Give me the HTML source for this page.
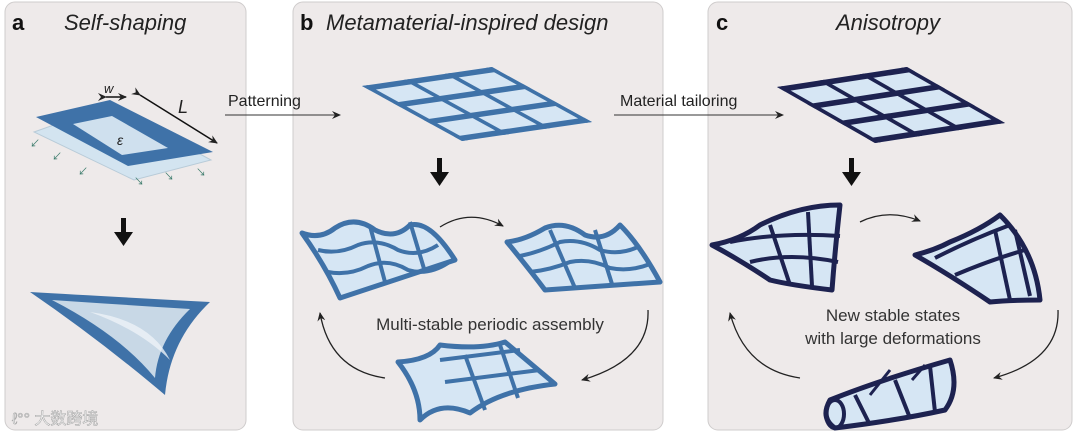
<!DOCTYPE html>
<html><head><meta charset="utf-8"><style>
html,body{margin:0;padding:0;background:#fff;}
svg{display:block;font-family:"Liberation Sans","Noto Sans CJK SC",sans-serif;}
</style></head><body>
<svg width="1080" height="436" viewBox="0 0 1080 436" xmlns="http://www.w3.org/2000/svg">
<defs>
<marker id="ah" markerWidth="10" markerHeight="10" refX="8" refY="5" orient="auto" markerUnits="userSpaceOnUse"><path d="M0,1 L9,5 L0,9 L3,5 z" fill="#222"/></marker>
<g id="grid">
  <rect x="0" y="0" width="1" height="1" fill="#d6e6f4"/>
  <rect x="0" y="0" width="1" height="0.08"/>
  <rect x="0" y="0.307" width="1" height="0.08"/>
  <rect x="0" y="0.613" width="1" height="0.08"/>
  <rect x="0" y="0.92" width="1" height="0.08"/>
  <rect x="0" y="0" width="0.045" height="1"/>
  <rect x="0.318" y="0" width="0.045" height="1"/>
  <rect x="0.637" y="0" width="0.045" height="1"/>
  <rect x="0.955" y="0" width="0.045" height="1"/>
</g>
</defs>
<rect x="5" y="2" width="241" height="428" rx="10" fill="#eeeaea" stroke="#cfcccc"/>
<rect x="293" y="2" width="370" height="428" rx="10" fill="#eeeaea" stroke="#cfcccc"/>
<rect x="708" y="2" width="364" height="428" rx="10" fill="#eeeaea" stroke="#cfcccc"/>

<text x="12" y="30" font-size="22" font-weight="bold" fill="#111">a</text>
<text x="64" y="30" font-size="22" font-style="italic" fill="#222">Self-shaping</text>
<text x="300" y="30" font-size="22" font-weight="bold" fill="#111">b</text>
<text x="326" y="30" font-size="22" font-style="italic" fill="#222">Metamaterial-inspired design</text>
<text x="716" y="30" font-size="22" font-weight="bold" fill="#111">c</text>
<text x="836" y="30" font-size="22" font-style="italic" fill="#222">Anisotropy</text>

<polygon points="34,132 110,105 211,160 134,180" fill="#d3e4f0" stroke="#b8cbd8"/>
<polygon points="36,117 110,100 213,152 128,166" fill="#3f72a8"/>
<polygon points="73,124 112,116 168,148 122,155" fill="#cfe0ee"/>
<text x="117" y="145" font-size="14" font-style="italic" fill="#222">ε</text>
<text x="104" y="93" font-size="13" font-style="italic" fill="#222">w</text>
<line x1="106" y1="97" x2="126" y2="97" stroke="#111" stroke-width="1.5" marker-end="url(#ah)" marker-start="url(#ah)"/>
<line x1="140" y1="95" x2="217" y2="143" stroke="#111" stroke-width="1.5" marker-end="url(#ah)" marker-start="url(#ah)"/>
<text x="178" y="113" font-size="18" font-style="italic" fill="#222">L</text>
<g fill="#3a7a6a" font-size="10"><text x="30" y="147">↙</text><text x="52" y="160">↙</text><text x="78" y="175">↙</text><text x="134" y="185">↘</text><text x="164" y="180">↘</text><text x="196" y="176">↘</text></g>

<g fill="#111">
<rect x="121" y="218" width="5" height="16"/><polygon points="114,232 133,232 123.5,246"/>
<rect x="437" y="158" width="5" height="16"/><polygon points="430,172 449,172 439.5,186"/>
<rect x="849" y="158" width="5" height="16"/><polygon points="842,172 861,172 851.5,186"/>
</g>

<path d="M30,292 Q100,296 210,302 Q170,340 165,395 Q100,340 30,292 z" fill="#3f72a8"/>
<path d="M52,300 Q110,304 190,309 Q158,340 155,378 Q120,335 52,300 z" fill="#c8d8e6"/>
<path d="M90,312 Q150,320 170,360 Q140,330 90,312z" fill="#eef3f8" opacity="0.8"/>

<text x="228" y="106" font-size="16" fill="#222">Patterning</text>
<line x1="225" y1="115" x2="340" y2="115" stroke="#333" stroke-width="1" marker-end="url(#ah)"/>
<text x="620" y="106" font-size="16" fill="#222">Material tailoring</text>
<line x1="614" y1="115" x2="783" y2="115" stroke="#333" stroke-width="1" marker-end="url(#ah)"/>

<g fill="#3f72a8" transform="matrix(130,-19,100,55,362,86)"><use href="#grid"/></g>
<g fill="#1d2250" transform="matrix(130,-20,98,56,777,87)"><use href="#grid"/></g>

<g stroke="#3f72a8" stroke-width="5" fill="#d6e6f4" stroke-linejoin="round">
<path d="M302,233 Q320,240 335,228 Q355,215 375,230 Q395,240 410,225 Q430,220 455,260 L340,298 Q325,265 302,233z"/>
<path d="M318,250 Q338,255 358,245 Q378,238 398,250 Q418,258 438,245" fill="none" stroke-width="4"/>
<path d="M328,272 Q348,276 368,266 Q388,258 408,270 Q428,276 448,263" fill="none" stroke-width="4"/>
<line x1="370" y1="226" x2="385" y2="282" stroke-width="4"/><line x1="410" y1="222" x2="425" y2="272" stroke-width="4"/>
<path d="M507,242 Q525,240 545,228 Q565,220 585,235 Q605,242 620,225 Q640,245 660,282 L545,290 Q530,270 507,242z"/>
<path d="M520,256 Q540,252 560,242 Q580,238 600,250 Q620,256 640,246" fill="none" stroke-width="4"/>
<path d="M530,272 Q550,270 570,262 Q590,258 610,268 Q630,272 650,264" fill="none" stroke-width="4"/>
<line x1="550" y1="230" x2="575" y2="288" stroke-width="4"/><line x1="595" y1="230" x2="612" y2="284" stroke-width="4"/>
<path d="M398,362 Q430,360 440,345 Q480,350 505,342 L555,384 Q500,390 470,413 Q440,400 420,420 Q420,390 398,362z"/>
<line x1="440" y1="360" x2="520" y2="350" stroke-width="4"/><line x1="445" y1="382" x2="540" y2="370" stroke-width="4"/>
<line x1="465" y1="355" x2="485" y2="410" stroke-width="4"/><line x1="500" y1="345" x2="518" y2="398" stroke-width="4"/>
</g>
<g stroke="#1d2250" stroke-width="5" fill="#d6e6f4" stroke-linejoin="round">
<path d="M712,245 Q740,240 760,225 Q800,205 840,205 Q835,250 832,290 Q790,285 770,280 Q740,260 712,245z"/>
<path d="M730,242 Q780,232 840,236" fill="none" stroke-width="4"/><path d="M750,262 Q790,252 838,262" fill="none" stroke-width="4"/>
<line x1="770" y1="225" x2="790" y2="285" stroke-width="4"/><line x1="808" y1="212" x2="812" y2="286" stroke-width="4"/>
<path d="M915,255 Q935,250 950,242 Q980,230 1000,215 Q1035,250 1040,300 Q1010,300 990,302 Q950,275 915,255z"/>
<path d="M935,258 Q970,240 1010,225" fill="none" stroke-width="4"/><path d="M955,275 Q990,260 1025,250" fill="none" stroke-width="4"/>
<line x1="995" y1="230" x2="1010" y2="300" stroke-width="4"/><line x1="1015" y1="230" x2="1030" y2="296" stroke-width="4"/>
<path d="M830,400 Q880,380 950,360 Q960,390 945,410 Q900,420 835,428 Q820,418 830,400z"/>
<ellipse cx="835" cy="414" rx="9" ry="14" fill="none" stroke-width="4"/>
<line x1="855" y1="395" x2="870" y2="425" stroke-width="4"/><line x1="870" y1="395" x2="890" y2="370" stroke-width="3"/>
<line x1="895" y1="380" x2="910" y2="418" stroke-width="4"/><line x1="912" y1="380" x2="925" y2="365" stroke-width="3"/>
<line x1="930" y1="366" x2="935" y2="412" stroke-width="4"/>
</g>

<g stroke="#222" stroke-width="1.3" fill="none">
<path d="M440,227 Q470,208 503,226" marker-end="url(#ah)"/>
<path d="M648,310 Q650,360 582,380" marker-end="url(#ah)"/>
<path d="M385,378 Q330,370 320,313" marker-end="url(#ah)"/>
<path d="M860,222 Q888,208 920,221" marker-end="url(#ah)"/>
<path d="M1058,310 Q1060,360 994,378" marker-end="url(#ah)"/>
<path d="M800,378 Q745,370 730,313" marker-end="url(#ah)"/>
</g>
<text x="490" y="330" font-size="17" fill="#333" text-anchor="middle">Multi-stable periodic assembly</text>
<text x="893" y="321" font-size="17" fill="#333" text-anchor="middle">New stable states</text>
<text x="893" y="344" font-size="17" fill="#333" text-anchor="middle">with large deformations</text>

<text x="12" y="424" font-size="16" fill="#fff" stroke="#aaa" stroke-width="0.6">ℓ°° 大数跨境</text>
</svg>
</body></html>
